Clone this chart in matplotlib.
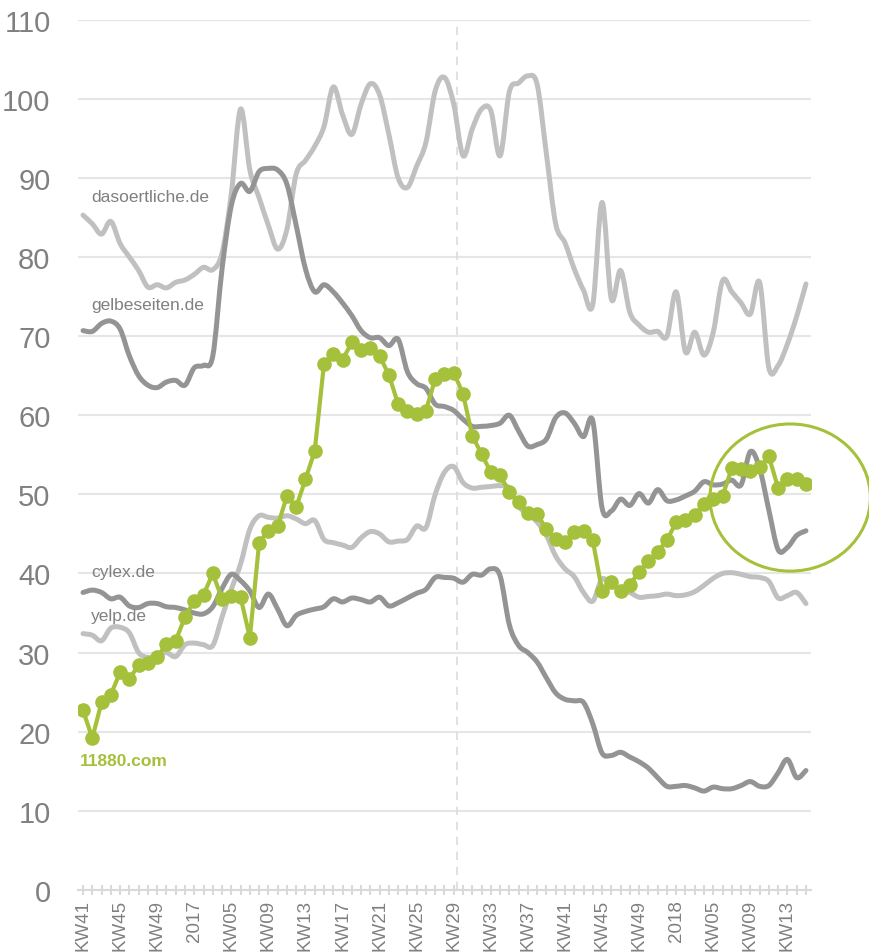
import numpy as np
import matplotlib.pyplot as plt
from matplotlib.patches import Ellipse, PathPatch
from matplotlib.path import Path

# Weekly values, KW41 2016 .. KW15 2018
dasoertliche = [85.3, 84.2, 82.9, 84.5, 81.7, 80.0, 78.3, 76.2, 76.5, 76.1,
                76.8, 77.1, 77.8, 78.7, 78.4, 80.5, 88.0, 98.7, 91.0, 87.5,
                84.0, 81.0, 83.5, 90.5, 92.2, 94.0, 96.5, 101.5, 98.0, 95.5,
                99.3, 101.9, 100.5, 95.5, 90.0, 88.8, 91.5, 94.5, 101.0, 102.7,
                99.3, 92.8, 96.2, 98.7, 98.5, 92.8, 100.9, 102.0, 102.9, 101.8,
                93.0, 84.2, 81.8, 78.5, 75.8, 74.0, 86.9, 74.7, 78.3, 73.0,
                71.4, 70.5, 70.6, 70.0, 75.6, 68.0, 70.5, 67.6, 70.5, 77.0,
                75.6, 74.2, 72.8, 76.8, 66.0, 66.3, 69.0, 72.5, 76.6]

gelbeseiten = [70.7, 70.6, 71.6, 71.9, 70.9, 67.5, 65.0, 63.8, 63.5, 64.2,
               64.4, 63.8, 66.0, 66.3, 67.5, 78.5, 86.5, 89.3, 88.3, 90.8,
               91.2, 91.0, 89.2, 84.0, 78.5, 75.6, 76.5, 75.6, 74.2, 72.6,
               70.7, 69.8, 69.8, 68.8, 69.6, 65.5, 64.0, 63.4, 61.4, 61.1,
               60.6, 59.5, 58.6, 58.6, 58.7, 59.0, 60.0, 58.0, 56.1, 56.3,
               57.0, 59.7, 60.3, 59.0, 57.3, 59.3, 48.3, 47.9, 49.4, 48.6,
               50.1, 48.9, 50.6, 49.2, 49.3, 49.8, 50.4, 51.6, 51.2, 51.3,
               51.8, 51.2, 55.4, 53.3, 48.0, 43.0, 43.3, 44.8, 45.4]

cylex = [37.6, 37.9, 37.6, 36.8, 37.0, 35.9, 35.7, 36.2, 36.2, 35.8,
         35.7, 35.4, 35.0, 34.9, 35.8, 38.1, 39.9, 39.1, 37.8, 35.7,
         37.4, 35.5, 33.4, 34.7, 35.2, 35.5, 35.8, 36.8, 36.4, 36.9,
         36.7, 36.4, 37.0, 35.9, 36.3, 36.9, 37.5, 38.0, 39.5, 39.5,
         39.4, 38.9, 39.9, 39.8, 40.6, 39.7, 33.5, 30.9, 30.0, 28.8,
         26.8, 24.9, 24.1, 23.9, 23.7, 21.0, 17.3, 17.0, 17.4, 16.8,
         16.2, 15.4, 14.2, 13.1, 13.1, 13.2, 12.9, 12.5, 13.0, 12.8,
         12.8, 13.2, 13.7, 13.1, 13.2, 14.8, 16.5, 14.2, 15.1]

yelp = [32.4, 32.2, 31.5, 33.1, 33.2, 32.5, 30.0, 29.4, 29.6, 30.0,
        29.5, 31.0, 31.2, 31.0, 30.9, 34.5, 38.0, 41.2, 45.6, 47.3,
        47.1, 47.0, 47.3, 46.9, 46.3, 46.7, 44.3, 43.9, 43.6, 43.3,
        44.5, 45.3, 45.0, 44.0, 44.1, 44.3, 46.0, 45.8, 50.0, 52.8,
        53.5, 51.5, 50.8, 50.9, 51.0, 51.1, 50.8, 48.5, 47.5, 46.5,
        44.8, 42.2, 40.6, 39.6, 37.6, 36.5, 39.3, 38.5, 38.0, 37.6,
        37.0, 37.1, 37.2, 37.4, 37.2, 37.3, 37.7, 38.5, 39.4, 40.0,
        40.1, 39.9, 39.6, 39.5, 39.0, 36.9, 37.2, 37.6, 36.2]

elfachtzig = [22.7, 19.2, 23.7, 24.7, 27.5, 26.7, 28.4, 28.7, 29.4, 31.1,
              31.5, 34.5, 36.5, 37.3, 40.0, 36.8, 37.1, 37.0, 31.9, 43.9,
              45.4, 46.0, 49.8, 48.4, 51.9, 55.5, 66.5, 67.8, 67.0, 69.2,
              68.2, 68.5, 67.5, 65.1, 61.4, 60.6, 60.2, 60.6, 64.6, 65.2,
              65.4, 62.7, 57.4, 55.1, 52.8, 52.4, 50.3, 49.0, 47.7, 47.5,
              45.6, 44.4, 44.0, 45.3, 45.4, 44.2, 37.8, 38.9, 37.8, 38.6,
              40.2, 41.6, 42.7, 44.2, 46.5, 46.8, 47.4, 48.8, 49.4, 49.8,
              53.3, 53.2, 52.9, 53.4, 54.8, 50.8, 52.0, 51.9, 51.3]

tick_labels = ['KW41', 'KW45', 'KW49', '2017', 'KW05', 'KW09', 'KW13', 'KW17',
               'KW21', 'KW25', 'KW29', 'KW33', 'KW37', 'KW41', 'KW45', 'KW49',
               '2018', 'KW05', 'KW09', 'KW13']

light = '#c0c0c0'
dark = '#949494'
green = '#a5c13b'
txt = '#808080'
narrow = ['Liberation Sans Narrow', 'Liberation Sans', 'DejaVu Sans']


def smooth_line(ax, xs, ys, color, lw, z):
    # excel-style smoothed line: bezier segments through each data point
    pts = np.column_stack([xs, ys]).astype(float)
    pad = np.vstack([pts[0], pts, pts[-1]])
    verts = [pts[0]]
    codes = [Path.MOVETO]
    for i in range(len(pts) - 1):
        p0, p1, p2, p3 = pad[i], pad[i + 1], pad[i + 2], pad[i + 3]
        verts += [p1 + (p2 - p0) / 6, p2 - (p3 - p1) / 6, p2]
        codes += [Path.CURVE4] * 3
    ax.add_patch(PathPatch(Path(verts, codes), fill=False, edgecolor=color,
                           linewidth=lw, capstyle='round', joinstyle='round', zorder=z))


x = np.arange(len(elfachtzig))

fig = plt.figure(figsize=(8.7, 9.53), dpi=100)
ax = fig.add_axes([0.0901, 0.0651, 0.8416, 0.9132])

ax.set_ylim(0, 110)
ax.set_xlim(-0.5, 78.5)
ax.set_yticks(range(0, 111, 10))
ax.yaxis.grid(True, color='#e6e6e6', linewidth=1.5)
ax.set_axisbelow(True)
for s in ['top', 'right', 'left']:
    ax.spines[s].set_visible(False)
ax.spines['bottom'].set_color('#d9d9d9')
ax.spines['bottom'].set_linewidth(1.5)

ax.axvline(40.3, color='#dcdcdc', linestyle=(0, (5, 4)), linewidth=1.2, zorder=1)

lw = 3.6
smooth_line(ax, x, dasoertliche, light, lw, 2)
smooth_line(ax, x, yelp, light, lw, 2)
smooth_line(ax, x, gelbeseiten, dark, lw, 3)
smooth_line(ax, x, cylex, dark, lw, 3)
ax.plot(x, elfachtzig, color=green, linewidth=3, marker='o', markersize=9.5,
        solid_joinstyle='round', zorder=4)

# series labels
ax.text(0.9, 87.6, 'dasoertliche.de', color=txt, fontsize=12.5, va='center', family='Liberation Sans')
ax.text(0.9, 74.0, 'gelbeseiten.de', color=txt, fontsize=12.5, va='center', family='Liberation Sans')
ax.text(0.9, 40.3, 'cylex.de', color=txt, fontsize=12.5, va='center', family='Liberation Sans')
ax.text(0.9, 34.7, 'yelp.de', color=txt, fontsize=12.5, va='center', family='Liberation Sans')
ax.text(-0.3, 16.4, '11880.com', color=green, fontsize=12.5, fontweight='bold', va='center',
        family='Liberation Sans')

ax.add_patch(Ellipse((76.3, 49.6), 17.3, 18.6, fill=False, edgecolor=green,
                     linewidth=2.2, clip_on=False, zorder=5))

ax.set_xticks(x)
ax.set_xticklabels([tick_labels[i // 4] if i % 4 == 0 else '' for i in x],
                   rotation=90, family=narrow, fontsize=13.5, color=txt)
ax.tick_params(axis='x', direction='inout', length=7, width=1.5, color='#d9d9d9', pad=3)
ax.tick_params(axis='y', length=0, pad=20, labelsize=21, labelcolor=txt)
for lab in ax.get_yticklabels():
    lab.set_family(narrow)

fig.savefig('out.png', dpi=100, facecolor='white')
